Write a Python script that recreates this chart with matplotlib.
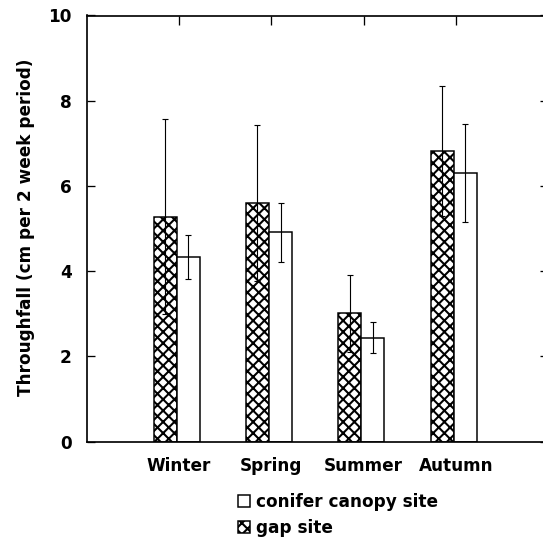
import matplotlib
matplotlib.use('Agg')
import matplotlib.pyplot as plt
from matplotlib.patches import Patch

# Seasonal throughfall.
seasons = ['Winter', 'Spring', 'Summer', 'Autumn']
gap_mean = [5.28, 5.61, 3.01, 6.82]
gap_err = [2.29, 1.83, 0.90, 1.53]
conifer_mean = [4.33, 4.91, 2.44, 6.30]
conifer_err = [0.52, 0.70, 0.36, 1.15]
y_ticks = [0, 2, 4, 6, 8, 10]

plt.rcParams['font.family'] = 'DejaVu Sans'
plt.rcParams['font.weight'] = 'bold'
plt.rcParams['font.size'] = 9
plt.rcParams['hatch.linewidth'] = 1.1

DPI = 135
fig = plt.figure(figsize=(543 / DPI, 540 / DPI), dpi=DPI)
ax = fig.add_axes([86.7 / 543, 1 - 441.7 / 540, 461.5 / 543, 426.2 / 540])

x = list(range(1, len(seasons) + 1))
width = 0.25
shift = -0.025  # bars sit a touch left of the top ticks
x_gap = [i - width / 2 + shift for i in x]
x_con = [i + width / 2 + shift for i in x]

ax.bar(x_gap, gap_mean, width, color='white', edgecolor='black',
       linewidth=0.8, hatch='xxxx')
ax.bar(x_con, conifer_mean, width, color='white', edgecolor='black',
       linewidth=0.8)
ax.errorbar(x_gap, gap_mean, yerr=gap_err, fmt='none', ecolor='black',
            elinewidth=0.6, capsize=1.6, capthick=0.6)
ax.errorbar(x_con, conifer_mean, yerr=conifer_err, fmt='none',
            ecolor='black', elinewidth=0.6, capsize=1.6, capthick=0.6)

# Format axes.
ax.set_xlim(0, 5)
ax.set_ylim(0, 10)
ax.set_xticks(x)
ax.set_xticklabels(seasons, fontweight='bold')
ax.set_yticks(y_ticks)
ax.set_yticklabels([str(t) for t in y_ticks], fontweight='bold')
ax.tick_params(axis='x', direction='in', bottom=False, top=True,
               length=4.8, width=0.7, pad=8)
ax.tick_params(axis='y', direction='in', left=True, right=True,
               length=4.5, width=0.7, pad=8)
for spine in ax.spines.values():
    spine.set_linewidth(0.9)

fig.text(26 / 543, 1 - 227.5 / 540, 'Throughfall (cm per 2 week period)',
         rotation=90, ha='center', va='center', fontweight='bold')

handles = [Patch(facecolor='white', edgecolor='black', linewidth=0.8),
           Patch(facecolor='white', edgecolor='black', linewidth=0.8,
                 hatch='xxxx')]
fig.legend(handles, ['conifer canopy site', 'gap site'],
           loc='upper left', bbox_to_anchor=(238 / 543, 1 - 493 / 540),
           frameon=False, borderpad=0, borderaxespad=0,
           handlelength=0.7, handleheight=0.7, handletextpad=0.35,
           labelspacing=0.45, prop={'weight': 'bold', 'size': 9})

fig.savefig('out.png', dpi=DPI)
